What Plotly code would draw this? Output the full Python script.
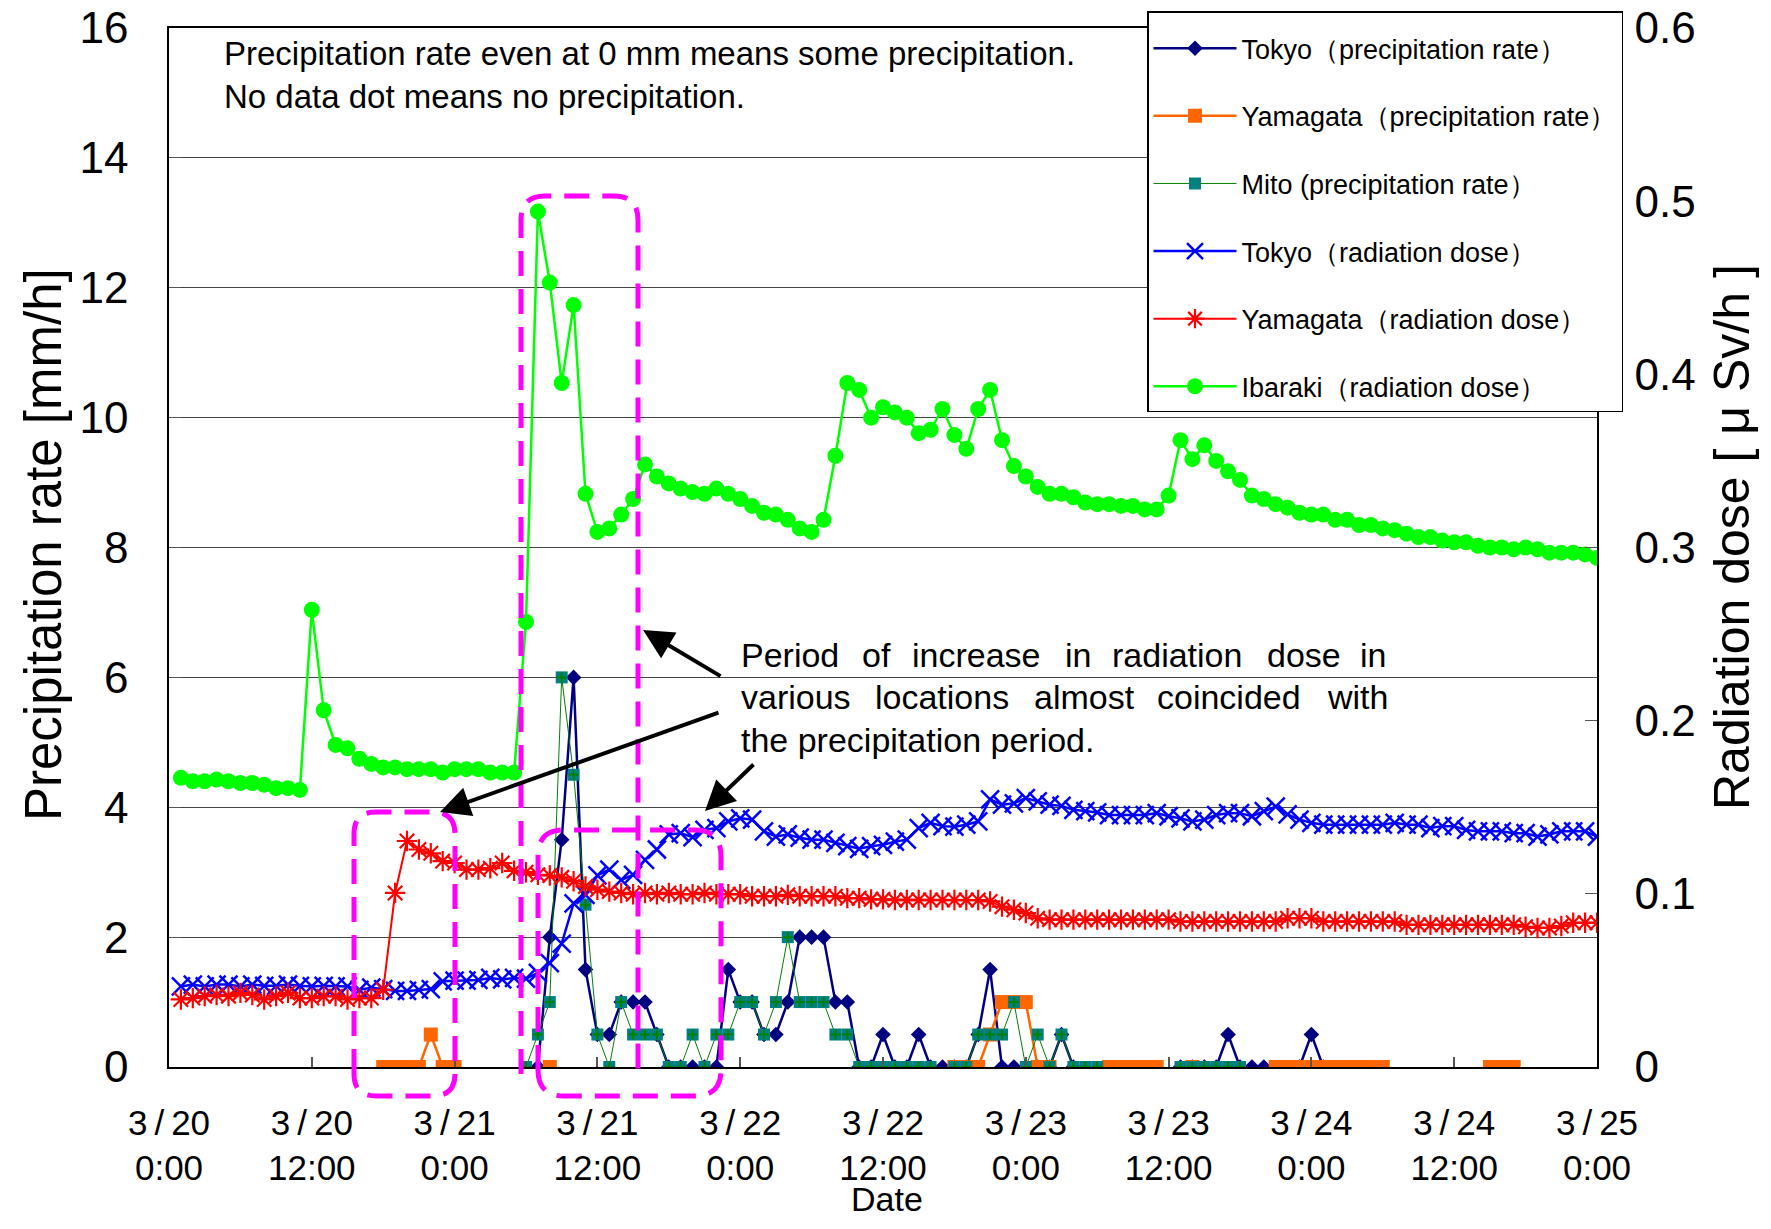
import plotly.graph_objects as go

# ---------------- data (hourly, hour 1 = 3/20 1:00 ... hour 120 = 3/25 0:00) ----------------
hours = list(range(1, 121))
tick_hours = [0, 12, 24, 36, 48, 60, 72, 84, 96, 108, 120]
tick_labels = ["3\u2009/\u200920<br>0:00", "3\u2009/\u200920<br>12:00", "3\u2009/\u200921<br>0:00",
               "3\u2009/\u200921<br>12:00", "3\u2009/\u200922<br>0:00", "3\u2009/\u200922<br>12:00",
               "3\u2009/\u200923<br>0:00", "3\u2009/\u200923<br>12:00", "3\u2009/\u200924<br>0:00",
               "3\u2009/\u200924<br>12:00", "3\u2009/\u200925<br>0:00"]

N = None
# precipitation rate [mm/h]  (None = no precipitation, no dot)
tokyo_precip = [
    N, N, N, N, N, N, N, N, N, N, N, N,
    N, N, N, N, N, N, N, N, N, N, N, N,
    N, N, N, N, N, N, 0, 2.0, 3.5, 6.0, 1.5, 0.5,
    0.5, 1.0, 1.0, 1.0, 0.5, 0, 0, 0, 0, 0, 1.5, 1.0,
    1.0, 0.5, 0.5, 1.0, 2.0, 2.0, 2.0, 1.0, 1.0, 0, 0, 0.5,
    0, 0, 0.5, 0, 0, 0, 0, 0.5, 1.5, 0, 0, 0,
    0, 0, 0.5, 0, N, N, N, N, N, N, N, N,
    0, 0, 0, 0, 0.5, 0, 0, 0, N, N, 0, 0.5,
    0, N, N, N, N, N, N, N, N, N, N, N,
    N, N, N, N, N, N, N, N, N, N, N, N,
]
yamagata_precip = [
    N, N, N, N, N, N, N, N, N, N, N, N,
    N, N, N, N, N, 0, 0, 0, 0, 0.5, 0, 0,
    N, N, N, N, N, N, N, 0, N, N, N, N,
    N, N, N, N, N, N, N, N, N, N, N, N,
    N, N, N, N, N, N, N, N, N, N, N, N,
    N, N, N, N, N, 0, 0, 0, 0.5, 1.0, 1.0, 1.0,
    0, 0, N, N, N, N, 0, 0, 0, 0, 0, N,
    N, 0, N, N, N, N, N, N, 0, 0, 0, 0,
    0, 0, 0, 0, 0, 0, N, N, N, N, N, N,
    N, N, 0, 0, 0, N, N, N, N, N, N, N,
]
mito_precip = [
    N, N, N, N, N, N, N, N, N, N, N, N,
    N, N, N, N, N, N, N, N, N, N, N, N,
    N, N, N, N, N, 0, 0.5, 1.0, 6.0, 4.5, 2.5, 0.5,
    0, 1.0, 0.5, 0.5, 0.5, 0, 0, 0.5, 0, 0.5, 0.5, 1.0,
    1.0, 0.5, 1.0, 2.0, 1.0, 1.0, 1.0, 0.5, 0.5, 0, 0, 0,
    0, 0, 0, 0, N, 0, 0, 0.5, 0.5, 0.5, 1.0, 0,
    0.5, 0, 0.5, 0, 0, 0, N, N, N, N, N, N,
    0, 0, 0, 0, 0, 0, N, N, N, N, N, N,
    N, N, N, N, N, N, N, N, N, N, N, N,
    N, N, N, N, N, N, N, N, N, N, N, N,
]

# radiation dose [uSv/h]
tokyo_dose = [
    0.0465, 0.0476, 0.0465, 0.0476, 0.0476, 0.0465, 0.0476, 0.0469, 0.0469, 0.0476, 0.0469, 0.0465,
    0.0469, 0.0465, 0.0465, 0.0446, 0.0458, 0.0450, 0.0439, 0.0439, 0.0446, 0.0450, 0.0495, 0.0499,
    0.0499, 0.0503, 0.0514, 0.0506, 0.0514, 0.0510, 0.0544, 0.0600, 0.0713, 0.0945, 0.0994, 0.1106,
    0.1140, 0.1080, 0.1110, 0.1196, 0.1256, 0.1343, 0.1350, 0.1328, 0.1369, 0.1380, 0.1418, 0.1436,
    0.1429, 0.1361, 0.1331, 0.1343, 0.1324, 0.1313, 0.1313, 0.1294, 0.1275, 0.1260, 0.1275, 0.1283,
    0.1301, 0.1313, 0.1380, 0.1410, 0.1391, 0.1388, 0.1399, 0.1418, 0.1545, 0.1515, 0.1523, 0.1553,
    0.1534, 0.1515, 0.1508, 0.1485, 0.1478, 0.1470, 0.1455, 0.1455, 0.1455, 0.1455, 0.1466, 0.1448,
    0.1436, 0.1418, 0.1429, 0.1455, 0.1466, 0.1466, 0.1448, 0.1478, 0.1504, 0.1459, 0.1429, 0.1410,
    0.1399, 0.1399, 0.1399, 0.1399, 0.1399, 0.1399, 0.1410, 0.1399, 0.1399, 0.1380, 0.1391, 0.1391,
    0.1369, 0.1361, 0.1361, 0.1361, 0.1350, 0.1350, 0.1331, 0.1343, 0.1361, 0.1361, 0.1361, 0.1331,
]
yamagata_dose = [
    0.0390, 0.0398, 0.0409, 0.0416, 0.0409, 0.0428, 0.0416, 0.0390, 0.0409, 0.0428, 0.0398, 0.0398,
    0.0409, 0.0409, 0.0390, 0.0398, 0.0398, 0.0446, 0.1005, 0.1305, 0.1256, 0.1234, 0.1189, 0.1178,
    0.1140, 0.1140, 0.1148, 0.1178, 0.1133, 0.1125, 0.1110, 0.1106, 0.1095, 0.1073, 0.1043, 0.1024,
    0.1013, 0.1005, 0.0998, 0.1005, 0.0998, 0.1005, 0.0998, 0.0998, 0.1005, 0.0998, 0.0998, 0.0998,
    0.0986, 0.0986, 0.0986, 0.0994, 0.0986, 0.0986, 0.0986, 0.0986, 0.0975, 0.0975, 0.0968, 0.0968,
    0.0964, 0.0964, 0.0964, 0.0964, 0.0964, 0.0964, 0.0964, 0.0964, 0.0956, 0.0926, 0.0908, 0.0889,
    0.0859, 0.0851, 0.0851, 0.0851, 0.0851, 0.0851, 0.0851, 0.0851, 0.0851, 0.0851, 0.0851, 0.0851,
    0.0840, 0.0840, 0.0840, 0.0840, 0.0840, 0.0840, 0.0840, 0.0840, 0.0840, 0.0859, 0.0859, 0.0859,
    0.0840, 0.0840, 0.0840, 0.0840, 0.0840, 0.0840, 0.0840, 0.0821, 0.0821, 0.0821, 0.0821, 0.0821,
    0.0821, 0.0821, 0.0821, 0.0821, 0.0821, 0.0810, 0.0803, 0.0803, 0.0814, 0.0833, 0.0833, 0.0833,
]
ibaraki_dose = [
    0.167, 0.165, 0.165, 0.166, 0.165, 0.164, 0.164, 0.163, 0.161, 0.161, 0.160, 0.264,
    0.206, 0.186, 0.184, 0.178, 0.175, 0.173, 0.173, 0.172, 0.172, 0.172, 0.170, 0.172,
    0.172, 0.172, 0.170, 0.170, 0.170, 0.257, 0.494, 0.453, 0.395, 0.440, 0.331, 0.309,
    0.311, 0.319, 0.328, 0.348, 0.341, 0.337, 0.334, 0.332, 0.331, 0.334, 0.331, 0.328,
    0.324, 0.320, 0.319, 0.316, 0.311, 0.309, 0.316, 0.353, 0.395, 0.391, 0.375, 0.381,
    0.378, 0.375, 0.366, 0.368, 0.380, 0.365, 0.357, 0.380, 0.391, 0.362, 0.347, 0.341,
    0.335, 0.331, 0.331, 0.329, 0.326, 0.325, 0.325, 0.324, 0.324, 0.322, 0.322, 0.330,
    0.362, 0.351, 0.359, 0.350, 0.344, 0.339, 0.330, 0.328, 0.325, 0.323, 0.320, 0.319,
    0.319, 0.316, 0.316, 0.313, 0.313, 0.311, 0.310, 0.308, 0.306, 0.306, 0.304, 0.303,
    0.303, 0.301, 0.300, 0.300, 0.299, 0.300, 0.299, 0.297, 0.297, 0.297, 0.296, 0.294,
]

# ---------------- layout geometry (pixels of the 1771x1229 page) ----------------
BODY = 8                      # default <body> margin of the written html page
W, H = 1771 - 2 * BODY, 1229 - 2 * BODY
PL, PR, PT, PB = 169, 1597, 28, 1067   # plot area edges in page pixels


def paper(xp, yp):
    return (xp - PL) / (PR - PL), (PB - yp) / (PB - PT)


FONT = "Liberation Sans, Arial, sans-serif"

fig = go.Figure()

# precipitation traces (left axis)
fig.add_trace(go.Scatter(x=hours, y=tokyo_precip, name="Tokyo（precipitation rate）",
                         mode="lines+markers", legendgroup="g1",
                         line=dict(color="#000080", width=2.5),
                         marker=dict(symbol="diamond", size=12, color="#000080")))
fig.add_trace(go.Scatter(x=hours, y=yamagata_precip, name="Yamagata（precipitation rate）",
                         mode="lines+markers", legendgroup="g2",
                         line=dict(color="#FF6600", width=2.5),
                         marker=dict(symbol="square", size=14, color="#FF6600")))
fig.add_trace(go.Scatter(x=hours, y=mito_precip, name="Mito (precipitation rate）",
                         mode="lines+markers", legendgroup="g3",
                         line=dict(color="#008000", width=1),
                         marker=dict(symbol="square", size=12, color="#008080")))
fig.add_trace(go.Scatter(x=hours, y=mito_precip, mode="markers", showlegend=False,
                         legendgroup="g3", hoverinfo="skip",
                         marker=dict(symbol="cross-thin", size=7,
                                     line=dict(color="#008000", width=2))))

# radiation traces (right axis)
fig.add_trace(go.Scatter(x=hours, y=tokyo_dose, name="Tokyo（radiation dose）", yaxis="y2",
                         mode="lines+markers", legendgroup="g4",
                         line=dict(color="#0000FF", width=2.5),
                         marker=dict(symbol="x-thin", size=18,
                                     line=dict(color="#0000FF", width=2.5))))
fig.add_trace(go.Scatter(x=hours, y=yamagata_dose, name="Yamagata（radiation dose）", yaxis="y2",
                         mode="lines+markers", legendgroup="g5",
                         line=dict(color="#FF0000", width=2),
                         marker=dict(symbol="asterisk", size=17,
                                     line=dict(color="#FF0000", width=2.2))))
fig.add_trace(go.Scatter(x=hours, y=ibaraki_dose, name="Ibaraki（radiation dose）", yaxis="y2",
                         mode="lines+markers", legendgroup="g6",
                         line=dict(color="#00FF00", width=2.5),
                         marker=dict(symbol="circle", size=16, color="#00FF00")))

# ---------------- dashed magenta boxes ----------------
def rounded_path(l, t, r, b, rad, open_bottom=False):
    x0, y0 = paper(l, b)
    x1, y1 = paper(r, t)
    rx = rad / (PR - PL)
    ry = rad / (PB - PT)
    if open_bottom:
        return (f"M {x0},{y0} L {x0},{y1 - ry} Q {x0},{y1} {x0 + rx},{y1} "
                f"L {x1 - rx},{y1} Q {x1},{y1} {x1},{y1 - ry} L {x1},{y0}")
    return (f"M {x0},{y0 + ry} L {x0},{y1 - ry} Q {x0},{y1} {x0 + rx},{y1} "
            f"L {x1 - rx},{y1} Q {x1},{y1} {x1},{y1 - ry} L {x1},{y0 + ry} "
            f"Q {x1},{y0} {x1 - rx},{y0} L {x0 + rx},{y0} Q {x0},{y0} {x0},{y0 + ry} Z")


box_line = dict(color="#FF00FF", width=5, dash="25px,13px")
shapes = [
    dict(type="path", xref="paper", yref="paper", layer="above", line=box_line,
         path=rounded_path(354, 812, 455, 1096, 22)),
    dict(type="path", xref="paper", yref="paper", layer="above", line=box_line,
         path=rounded_path(521, 196, 638, 1074, 24, open_bottom=True)),
    dict(type="path", xref="paper", yref="paper", layer="above", line=box_line,
         path=rounded_path(538, 830, 721, 1096, 26)),
]

annotations = []


def text_at(xp, yp, text, size, xanchor="left", angle=0, align="left", yanchor="middle"):
    px_, py_ = paper(xp, yp)
    annotations.append(dict(x=px_, y=py_, xref="paper", yref="paper", text=text,
                            showarrow=False, xanchor=xanchor, yanchor=yanchor,
                            textangle=angle, align=align,
                            font=dict(family=FONT, size=size, color="black")))


# note at top-left
text_at(222, 75, "Precipitation rate even at 0 mm means some precipitation.<br>"
                 "No data dot means no precipitation.", 33)

# justified annotation text, word by word
line1 = [(739, "Period"), (860, "of"), (910, "increase"), (1063, "in"),
         (1110, "radiation"), (1265, "dose"), (1358, "in")]
line2 = [(739, "various"), (873, "locations"), (1032, "almost"), (1155, "coincided"),
         (1325, "with")]
for xw, w in line1:
    text_at(xw, 655, w, 34)
for xw, w in line2:
    text_at(xw, 697, w, 34)
text_at(739, 740, "the precipitation period.", 34)

# axis titles
text_at(43, 545, "Precipitation rate [mm/h]", 51, xanchor="center", angle=-90, align="center")
text_at(1732, 537, "Radiation dose [ μ Sv/h ]", 50, xanchor="center", angle=-90, align="center")
text_at(887, 1220, "Date", 34, xanchor="center", align="center", yanchor="bottom")

# arrows (tip, tail in page pixels)
arrows = [((643, 630), (722, 677)),
          ((440, 812), (720, 712)),
          ((705, 811), (755, 763))]
for (tx, ty), (sx, sy) in arrows:
    px_, py_ = paper(tx, ty)
    annotations.append(dict(x=px_, y=py_, xref="paper", yref="paper", text="",
                            showarrow=True, arrowhead=2, arrowsize=1.5, arrowwidth=4,
                            arrowcolor="black", ax=sx - tx, ay=sy - ty,
                            axref="pixel", ayref="pixel", standoff=0))

lx, ly = paper(1147, 11)
fig.update_layout(
    width=W, height=H,
    margin=dict(l=PL - BODY, r=W - (PR - BODY), t=PT - BODY, b=H - (PB - BODY), pad=0,
                autoexpand=False),
    paper_bgcolor="white", plot_bgcolor="white",
    font=dict(family=FONT, color="black"),
    showlegend=True,
    legend=dict(x=lx, y=ly, xanchor="left", yanchor="top",
                bgcolor="white", bordercolor="black", borderwidth=1.5,
                font=dict(family=FONT, size=27, color="black"),
                title=dict(text=" ", font=dict(size=9)),
                itemwidth=83, tracegroupgap=29.5, traceorder="grouped"),
    xaxis=dict(range=[0, 120], tickmode="array", tickvals=tick_hours, ticktext=tick_labels,
               ticks="inside", ticklen=10, tickcolor="#555", tickwidth=1.5,
               showline=True, linecolor="black", linewidth=1.5, mirror=True,
               showgrid=False, zeroline=False, automargin=False, ticklabeloverflow="allow",
               tickfont=dict(family=FONT, size=35, color="black"), ticklabelstandoff=24),
    yaxis=dict(range=[0, 16], dtick=2, tick0=0, ticks="inside", ticklen=12, tickcolor="#555",
               showline=True, linecolor="black", linewidth=1.5,
               showgrid=True, gridcolor="#444", gridwidth=1, zeroline=False, automargin=False,
               ticklabeloverflow="allow",
               tickfont=dict(family=FONT, size=44, color="black"), ticklabelstandoff=30),
    yaxis2=dict(range=[0, 0.6], dtick=0.1, tick0=0, overlaying="y", side="right",
                ticks="inside", ticklen=12, tickcolor="#555",
                showline=True, linecolor="black", linewidth=1.5,
                showgrid=False, zeroline=False, automargin=False, ticklabeloverflow="allow",
                tickfont=dict(family=FONT, size=44, color="black"), ticklabelstandoff=27),
    shapes=shapes,
    annotations=annotations,
)

fig.write_html("out.html")
